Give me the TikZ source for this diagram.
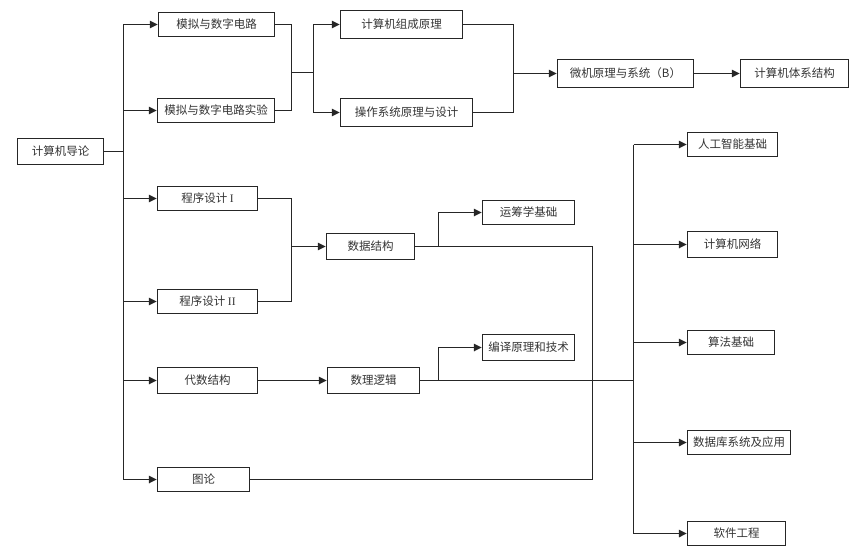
\documentclass[tikz,border=0pt]{standalone}
\usepackage{fontspec}
\setmainfont{Liberation Serif}
\newfontfamily\cjk{Noto Sans CJK SC}
\usetikzlibrary{arrows.meta}
\begin{document}
\begin{tikzpicture}[x=1pt,y=-1pt,
  bx/.style={draw=black!85, line width=1.4pt, inner sep=0pt, minimum height=24pt, font=\cjk\fontsize{11.5pt}{13pt}\selectfont, text=black!80},
  ln/.style={draw=black!85, line width=1.5pt},
  arr/.style={ln, -{Triangle[length=8pt,width=7.5pt]}}]
\useasboundingbox (0,0) rectangle (856,551);
% nodes
\node[bx, minimum width=86pt, minimum height=26pt] (intro) at (60.5,151.5) {计算机导论};
\node[bx, minimum width=116pt] (mnsz) at (216.5,24.5) {模拟与数字电路};
\node[bx, minimum width=117pt] (mnszsy) at (216,110.5) {模拟与数字电路实验};
\node[bx, minimum width=122pt, minimum height=28pt] (jszc) at (401.5,24.5) {计算机组成原理};
\node[bx, minimum width=132pt, minimum height=28pt] (czxt) at (406.5,112.5) {操作系统原理与设计};
\node[bx, minimum width=136pt, minimum height=28pt] (wjyl) at (625.5,73.5) {微机原理与系统（B）};
\node[bx, minimum width=108pt, minimum height=28pt] (jstx) at (794.5,73.5) {计算机体系结构};
\node[bx, minimum width=100pt] (cx1) at (207.5,198.5) {程序设计 {\rmfamily I}};
\node[bx, minimum width=100pt] (cx2) at (207.5,301.5) {程序设计 {\rmfamily II}};
\node[bx, minimum width=88pt, minimum height=26pt] (sjjg) at (370.5,246.5) {数据结构};
\node[bx, minimum width=92pt] (ycx) at (528.5,212.5) {运筹学基础};
\node[bx, minimum width=100pt, minimum height=26pt] (dsjg) at (207.5,380.5) {代数结构};
\node[bx, minimum width=92pt, minimum height=26pt] (slj) at (373.5,380.5) {数理逻辑};
\node[bx, minimum width=92pt, minimum height=26pt] (byyl) at (528.5,347.5) {编译原理和技术};
\node[bx, minimum width=92pt] (tl) at (203.5,479.5) {图论};
\node[bx, minimum width=90pt] (rgzn) at (732.5,144.5) {人工智能基础};
\node[bx, minimum width=90pt, minimum height=26pt] (jswl) at (732.5,244.5) {计算机网络};
\node[bx, minimum width=87pt] (sfjc) at (731,342.5) {算法基础};
\node[bx, minimum width=103pt] (sjk) at (739,442.5) {数据库系统及应用};
\node[bx, minimum width=98pt] (rjgc) at (736.5,533.5) {软件工程};
% junction coordinates
\coordinate (tA) at (123.5,151.5);
\coordinate (m1) at (291.5,72.5);
\coordinate (s1) at (313.5,72.5);
\coordinate (m2) at (513.5,73.5);
\coordinate (m3) at (291.5,246.5);
\coordinate (b1) at (438.5,246.5);
\coordinate (j1) at (592.5,246.5);
\coordinate (j2) at (592.5,479.5);
\coordinate (b2) at (438.5,380.5);
\coordinate (R) at (633.5,380.5);
% left trunk
\draw[ln] (intro.east) -- (tA);
\draw[ln] (tA |- mnsz.west) -- (tA |- tl.west);
\draw[arr] (tA |- mnsz.west) -- (mnsz.west);
\draw[arr] (tA |- mnszsy.west) -- (mnszsy.west);
\draw[arr] (tA |- cx1.west) -- (cx1.west);
\draw[arr] (tA |- cx2.west) -- (cx2.west);
\draw[arr] (tA |- dsjg.west) -- (dsjg.west);
\draw[arr] (tA |- tl.west) -- (tl.west);
% top group
\draw[ln] (mnsz.east) -| (m1 |- mnszsy.east) -- (mnszsy.east);
\draw[ln] (m1) -- (s1);
\draw[ln] (s1 |- jszc.west) -- (s1 |- czxt.west);
\draw[arr] (s1 |- jszc.west) -- (jszc.west);
\draw[arr] (s1 |- czxt.west) -- (czxt.west);
\draw[ln] (jszc.east) -| (m2 |- czxt.east) -- (czxt.east);
\draw[arr] (m2) -- (wjyl.west);
\draw[arr] (wjyl.east) -- (jstx.west);
% programming group
\draw[ln] (cx1.east) -| (m3 |- cx2.east) -- (cx2.east);
\draw[arr] (m3) -- (sjjg.west);
\draw[ln] (sjjg.east) -- (j1) -- (j2) -- (tl.east);
\draw[arr] (b1) |- (ycx.west);
% algebra group
\draw[arr] (dsjg.east) -- (slj.west);
\draw[ln] (slj.east) -- (R);
\draw[arr] (b2) |- (byyl.west);
% right trunk
\draw[ln] (R |- rgzn.west) -- (R |- rjgc.west);
\draw[arr] (R |- rgzn.west) -- (rgzn.west);
\draw[arr] (R |- jswl.west) -- (jswl.west);
\draw[arr] (R |- sfjc.west) -- (sfjc.west);
\draw[arr] (R |- sjk.west) -- (sjk.west);
\draw[arr] (R |- rjgc.west) -- (rjgc.west);
\end{tikzpicture}
\end{document}
